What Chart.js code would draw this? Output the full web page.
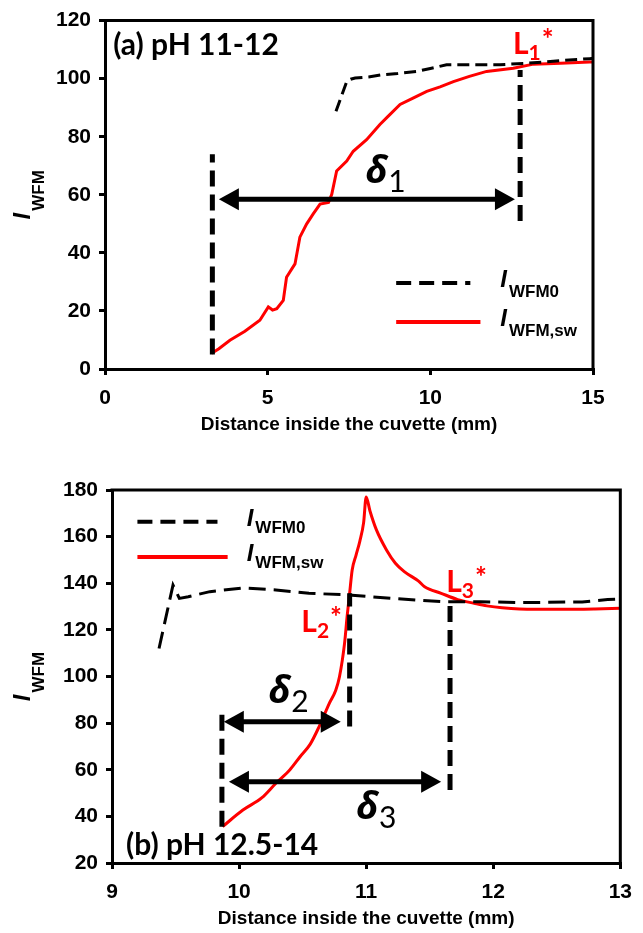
<!DOCTYPE html>
<html>
<head>
<meta charset="utf-8">
<script src="https://cdn.jsdelivr.net/npm/chart.js@4.4.0/dist/chart.umd.min.js"></script>
<style>
  body { margin: 0; background: #fff; }
  canvas { position: absolute; left: 0; }
  #chartA { top: 0; }
  #chartB { top: 460px; }
</style>
</head>
<body>
<canvas id="chartA" width="643" height="440"></canvas>
<canvas id="chartB" width="643" height="473"></canvas>
<script>
// ---- panel (a) pH 11-12 ----
const aRedX = [3.28, 3.5, 3.84, 4.3, 4.76, 5.02, 5.15, 5.28, 5.48, 5.58, 5.84, 5.99, 6.2, 6.4, 6.61, 6.87, 6.97, 7.12, 7.43, 7.63, 8.04, 8.45, 8.7, 9.07, 9.5, 9.89, 10.3, 10.71, 11.2, 11.73, 12.55, 13.17, 14, 14.9, 15];
const aRedY = [5.4, 7.0, 9.9, 13.0, 16.8, 21.4, 20.3, 20.8, 23.6, 31.6, 36.2, 45.4, 50, 53.4, 56.8, 57.4, 60.2, 68.2, 71.6, 75, 79, 84.2, 87, 91.1, 93.5, 95.6, 97.2, 99, 100.8, 102.5, 103.6, 105, 105.3, 105.7, 105.7];
const aBlkX = [7.1, 7.43, 7.55, 7.69, 8.1, 8.56, 9.0, 9.58, 10.0, 10.5, 11.32, 12.14, 12.96, 13.99, 14.9, 15];
const aBlkY = [88.8, 99, 99.8, 100.2, 100.6, 101.4, 101.8, 102.5, 103.5, 104.8, 104.8, 104.8, 105.3, 106.2, 106.9, 107];
const aXTicks = [0, 5, 10, 15];
const aYTicks = [0, 20, 40, 60, 80, 100, 120];

// ---- panel (b) pH 12.5-14 ----
const bRedX = [9.87, 10.03, 10.18, 10.29, 10.4, 10.48, 10.56, 10.63, 10.71, 10.76, 10.79, 10.83, 10.85, 10.87, 10.89, 10.92, 10.95, 10.98, 11.0, 11.03, 11.08, 11.16, 11.23, 11.3, 11.41, 11.46, 11.59, 11.72, 11.85, 11.95, 12.07, 12.32, 12.54, 12.8, 13];
const bRedY = [35.6, 42.7, 48, 54.2, 60, 65.6, 71, 78.5, 88.5, 94, 99.9, 114.2, 125.7, 135.7, 145.7, 152, 158, 166, 177, 171, 163, 154.3, 148.6, 145, 141, 138.5, 135.7, 133, 131.4, 130.3, 129.5, 128.8, 128.8, 129, 129.3];
const bBlkX = [9.37, 9.48, 9.53, 9.6, 9.77, 10.03, 10.29, 10.55, 10.86, 11.2, 11.59, 11.9, 12.23, 12.7, 12.9, 13];
const bBlkY = [112, 139.2, 133.5, 134.2, 136.4, 138, 137.1, 135.7, 135, 133.5, 132.1, 132.1, 131.7, 132, 133, 133.2];
const bXTicks = [9, 10, 11, 12, 13];
const bYTicks = [20, 40, 60, 80, 100, 120, 140, 160, 180];

const xTitle = 'Distance inside the cuvette (mm)';
const subNames = ['WFM0', 'WFM,sw'];

// annotations, in data units: guides [x, yFrom, yTo], arrows [y, xFrom, xTo]
const aGuides = [[3.3, 5, 74], [12.76, 51, 103]];
const aArrows = [[58.5, 3.5, 12.6]];
const bGuides = [[9.865, 35.6, 84.2], [10.87, 78.5, 135.7], [11.66, 51.3, 131.4]];
const bArrows = [[80.6, 9.88, 10.8], [54.9, 9.92, 11.59]];

const sans = '"Liberation Sans", Arial, sans-serif';
const narrow = '"Liberation Sans Narrow", "Liberation Sans", Arial, sans-serif';
const calib = 'Lato, "Open Sans", sans-serif';
const tickFont = { family: sans, size: 21, weight: 'bold' };

function pts(xs, ys) {
  return xs.map((x, i) => ({ x: x, y: ys[i] }));
}

function rich(ctx, x, y, parts) {
  let cx = x;
  parts.forEach(p => {
    ctx.font = p.font;
    ctx.fillStyle = p.color || '#000';
    ctx.fillText(p.t, cx + (p.dx || 0), y + (p.dy || 0));
    cx += ctx.measureText(p.t).width + (p.dx || 0);
  });
  return cx - x;
}

function arrow(ctx, x0, x1, y) {
  const L = 20, H = 11;
  ctx.lineWidth = 5;
  ctx.beginPath();
  ctx.moveTo(x0 + L - 2, y);
  ctx.lineTo(x1 - L + 2, y);
  ctx.stroke();
  [[x0, 1], [x1, -1]].forEach(([tx, d]) => {
    ctx.beginPath();
    ctx.moveTo(tx, y);
    ctx.lineTo(tx + d * L, y - H);
    ctx.lineTo(tx + d * L, y + H);
    ctx.closePath();
    ctx.fill();
  });
}

function overlay(o) {
  return {
    id: 'overlay',
    afterDatasetsDraw(chart) {
      const { ctx, chartArea: ca } = chart;
      const sx = chart.scales.x, sy = chart.scales.y;
      const px = v => sx.getPixelForValue(v);
      const py = v => sy.getPixelForValue(v);
      ctx.save();
      ctx.strokeStyle = '#000';
      ctx.fillStyle = '#000';

      // top and right frame
      ctx.lineWidth = 3;
      ctx.lineCap = 'square';
      ctx.beginPath();
      ctx.moveTo(ca.left, ca.top);
      ctx.lineTo(ca.right, ca.top);
      ctx.lineTo(ca.right, ca.bottom);
      ctx.stroke();
      ctx.lineCap = 'butt';

      // dashed guides
      ctx.lineWidth = 5;
      ctx.setLineDash([16, 8]);
      o.guides.forEach(([gx, g0, g1]) => {
        ctx.beginPath();
        ctx.moveTo(px(gx), py(g0));
        ctx.lineTo(px(gx), py(g1));
        ctx.stroke();
      });
      ctx.setLineDash([]);

      o.arrows.forEach(([ay, a0, a1]) => arrow(ctx, px(a0), px(a1), py(ay)));

      // deltas
      o.deltas.forEach(([t, dxv, dyv]) => {
        rich(ctx, px(dxv), py(dyv), [
          { t: 'δ', font: 'italic bold 38px "Noto Sans", "Open Sans", sans-serif' },
          { t: t, font: '30px ' + calib, dy: 9, dx: 1 }
        ]);
      });

      // L* markers
      o.marks.forEach(([t, mx, my]) => {
        rich(ctx, px(mx), py(my), [
          { t: 'L', font: 'bold 30px ' + calib, color: '#ff0000' },
          { t: t, font: 'bold 21px ' + calib, color: '#ff0000', dy: 6 },
          { t: '*', font: 'bold 28px ' + calib, color: '#ff0000', dy: -5, dx: 1 }
        ]);
      });

      // panel label
      ctx.font = 'bold 30px ' + calib;
      ctx.fillStyle = '#000';
      ctx.textBaseline = 'alphabetic';
      ctx.fillText(o.label[0], px(o.label[1]), py(o.label[2]));

      // legend
      const lg = o.legend;
      ctx.lineWidth = 4;
      ctx.strokeStyle = '#000';
      ctx.setLineDash([15, 8]);
      ctx.beginPath();
      ctx.moveTo(px(lg.x0), py(lg.y[0]));
      ctx.lineTo(px(lg.x1[0]), py(lg.y[0]));
      ctx.stroke();
      ctx.setLineDash([]);
      ctx.strokeStyle = '#ff0000';
      ctx.beginPath();
      ctx.moveTo(px(lg.x0), py(lg.y[1]));
      ctx.lineTo(px(lg.x1[1]), py(lg.y[1]));
      ctx.stroke();
      subNames.forEach((s, i) => {
        rich(ctx, px(lg.tx), py(lg.y[i]) + 4, [
          { t: 'I', font: 'italic bold 24px ' + sans },
          { t: s, font: 'bold 17px ' + narrow, dy: lg.sub, dx: 2 }
        ]);
      });

      // y axis title, rotated
      ctx.save();
      ctx.translate(o.yTitleX, (ca.top + ca.bottom) / 2);
      ctx.rotate(-Math.PI / 2);
      ctx.font = 'italic bold 24px ' + sans;
      const w1 = ctx.measureText('I').width;
      ctx.font = 'bold 17px ' + narrow;
      const w2 = ctx.measureText('WFM').width;
      rich(ctx, -(w1 + w2 + 2) / 2, 0, [
        { t: 'I', font: 'italic bold 24px ' + sans },
        { t: 'WFM', font: 'bold 17px ' + narrow, dy: 14, dx: 2 }
      ]);
      ctx.restore();

      ctx.restore();
    }
  };
}

function makeChart(id, d) {
  const axisCommon = (ticks, pad) => ({
    type: 'linear',
    min: ticks[0],
    max: ticks[ticks.length - 1],
    ticks: { stepSize: ticks[1] - ticks[0], font: tickFont, color: '#000', padding: pad },
    grid: { drawOnChartArea: false, drawTicks: true, tickLength: 6, lineWidth: 3, color: '#000' },
    border: { display: true, width: 3, color: '#000' }
  });
  const x = axisCommon(d.xTicks, 11);
  x.title = { display: true, text: xTitle, color: '#000', font: { family: sans, size: 19, weight: 'bold' }, padding: { top: 0, bottom: d.titlePad } };
  x.afterFit = s => { s.height = d.xH; };
  const y = axisCommon(d.yTicks, 8);
  y.afterFit = s => { s.width = d.yW; };

  return new Chart(document.getElementById(id), {
    type: 'line',
    data: {
      datasets: [
        {
          label: 'I WFM0',
          data: pts(d.blkX, d.blkY),
          borderColor: '#000',
          borderWidth: 3,
          borderDash: d.dash,
          pointRadius: 0,
          tension: 0
        },
        {
          label: 'I WFM,sw',
          data: pts(d.redX, d.redY),
          borderColor: '#ff0000',
          borderWidth: 3,
          pointRadius: 0,
          cubicInterpolationMode: d.smooth ? 'monotone' : 'default',
          tension: d.smooth ? 0.4 : 0
        }
      ]
    },
    options: {
      responsive: false,
      animation: false,
      layout: { padding: d.padding },
      plugins: { legend: { display: false }, tooltip: { enabled: false } },
      scales: { x: x, y: y }
    },
    plugins: [overlay(d.extra)]
  });
}

makeChart('chartA', {
  redX: aRedX, redY: aRedY, blkX: aBlkX, blkY: aBlkY,
  xTicks: aXTicks, yTicks: aYTicks, smooth: false, dash: [12, 6],
  xH: 71, yW: 105, titlePad: 4,
  padding: { top: 19, right: 50, left: 0, bottom: 0 },
  extra: {
    guides: aGuides,
    arrows: aArrows,
    deltas: [['1', 8.0, 64.2]],
    marks: [['1', 12.54, 108.5]],
    label: ['(a) pH 11-12', 0.25, 108.3],
    legend: { x0: 8.95, x1: [11.23, 11.54], y: [29.6, 16.2], tx: 12.15, sub: 10 },
    yTitleX: 30
  }
});

makeChart('chartB', {
  redX: bRedX, redY: bRedY, blkX: bBlkX, blkY: bBlkY,
  xTicks: bXTicks, yTicks: bYTicks, smooth: true, dash: [17, 8],
  xH: 70, yW: 112, titlePad: 3,
  padding: { top: 30, right: 11, left: 0, bottom: 0 },
  extra: {
    guides: bGuides,
    arrows: bArrows,
    deltas: [['2', 10.23, 88.5], ['3', 10.92, 39]],
    marks: [['2', 10.49, 119.2], ['3', 11.63, 136.4]],
    label: ['(b) pH 12.5-14', 9.11, 23.6],
    legend: { x0: 9.2, x1: [9.83, 9.91], y: [166.4, 151.3], tx: 10.06, sub: 7 },
    yTitleX: 30
  }
});
</script>
</body>
</html>
